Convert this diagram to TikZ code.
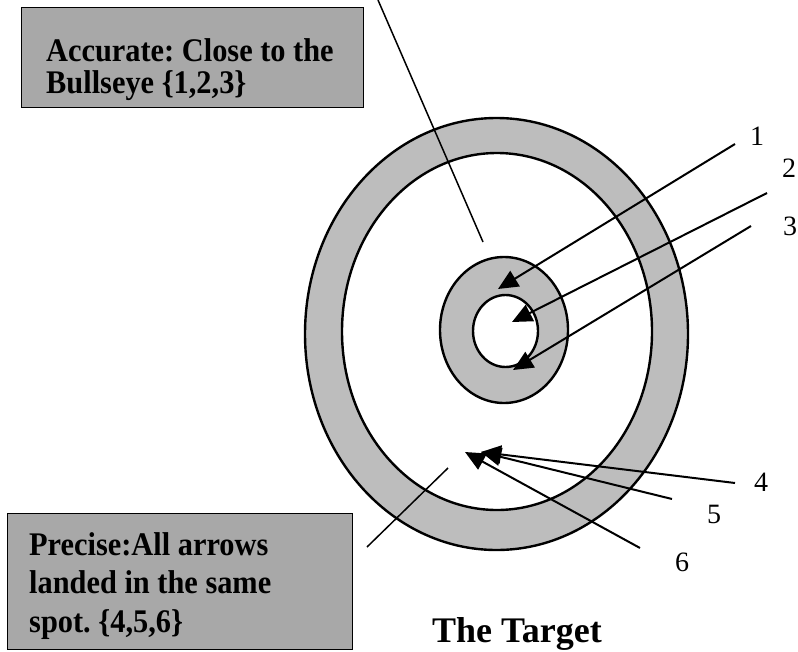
\documentclass[tikz,border=0pt]{standalone}
\usepackage{fontspec}
\setmainfont{Liberation Serif}
\newfontfamily\tallserif[FakeStretch=0.92]{Liberation Serif}
\usetikzlibrary{shapes.geometric, arrows.meta, positioning}
\definecolor{boxgray}{gray}{0.66}
\definecolor{ringgray}{gray}{0.74}
\frenchspacing
\tikzset{
  infobox/.style={rectangle, draw=black, line width=1pt, fill=boxgray,
                  inner sep=0pt},
  boxtxt/.style={align=left, inner sep=0pt,
                 font=\tallserif\fontsize{33}{32}\selectfont\bfseries},
  band/.style={ellipse, draw=black, line width=2.4pt, fill=ringgray,
               inner sep=0pt},
  hole/.style={ellipse, draw=black, line width=2.4pt, fill=white,
               inner sep=0pt},
  num/.style={inner sep=0pt, font=\fontsize{28}{28}\selectfont},
  arr/.style={-{Triangle[length=20pt,width=18pt]}, line width=2pt},
  ptr/.style={line width=1.5pt},
}

\begin{document}
\begin{tikzpicture}[x=1pt, y=-1pt]
  \useasboundingbox (0,0) rectangle (798,651);
  % target
  \node[band, minimum width=383pt, minimum height=432pt] (outer) at (496.5,334) {};
  \node[hole, minimum width=310pt, minimum height=357pt] (field) at (497,331.5) {};
  \node[band, minimum width=128pt, minimum height=146pt] (ring)  at (504,330) {};
  \node[hole, minimum width=65pt,  minimum height=72pt]  (eye)   at (505.5,331) {};
  % boxes
  \node[infobox, minimum width=342pt, minimum height=100pt] (accbox) at (192,57) {};
  \node[boxtxt, anchor=west] (acctxt) at (46,70)
       {Accurate: Close to the\\Bullseye \{1,2,3\}};
  \node[infobox, minimum width=345pt, minimum height=136pt] (prebox) at (179.5,581) {};
  \node[boxtxt, font=\tallserif\fontsize{33}{38.5}\selectfont\bfseries, anchor=west]
       (pretxt) at (29,586) {Precise:All arrows\\landed in the same\\spot. \{4,5,6\}};
  \node[inner sep=0pt, anchor=base west, font=\fontsize{36}{36}\selectfont\bfseries]
       (title) at (432,642) {The Target};
  % numbers
  \node[num] (l1) at (757,136) {1};
  \node[num] (l2) at (789,168) {2};
  \node[num] (l3) at (790,226) {3};
  \node[num] (l4) at (761,482) {4};
  \node[num] (l5) at (714,514) {5};
  \node[num] (l6) at (682,562) {6};
  % arrow ends
  \coordinate (s1) at (735,144); \coordinate (t1) at (498,289);
  \coordinate (s2) at (767,193); \coordinate (t2) at (512,322);
  \coordinate (s3) at (751,226); \coordinate (t3) at (513,370);
  \coordinate (s4) at (735,483); \coordinate (t4) at (481,452);
  \coordinate (s5) at (672,499); \coordinate (t5) at (481,452);
  \coordinate (s6) at (640,548); \coordinate (t6) at (465,452);
  \draw[arr](s1)--(t1);
  \draw[arr](s2)--(t2);
  \draw[arr](s3)--(t3);
  \draw[arr](s4)--(t4);
  \draw[arr](s5)--(t5);
  \draw[arr](s6)--(t6);
  % pointers
  \coordinate (pa) at (378,0);   \coordinate (pb) at (483,242);
  \coordinate (pc) at (367,547); \coordinate (pd) at (448,468);
  \draw[ptr](pa)--(pb);
  \draw[ptr](pc)--(pd);
\end{tikzpicture}
\end{document}
